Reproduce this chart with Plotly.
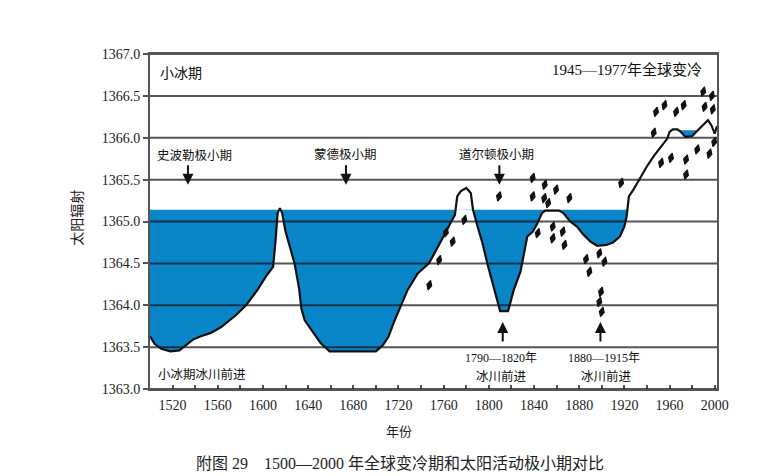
import numpy as np
import plotly.graph_objects as go

# ---- data ----
years = [1500, 1504, 1510, 1518, 1526, 1532, 1538, 1545, 1554, 1563, 1570, 1576, 1585, 1595,
         1603, 1609, 1611, 1613, 1615, 1617, 1620, 1624, 1628, 1632, 1634, 1637, 1643, 1651,
         1659, 1680, 1700, 1706, 1711, 1716, 1720, 1728, 1737, 1747, 1755, 1761, 1766, 1770,
         1772, 1775, 1780, 1784, 1786, 1790, 1794, 1799, 1805, 1808, 1810, 1817, 1822, 1828,
         1831, 1834, 1839, 1843, 1847, 1850, 1862, 1866, 1872, 1878, 1884, 1890, 1896, 1904,
         1910, 1916, 1920, 1922, 1924, 1928, 1934, 1940, 1946, 1952, 1958, 1960, 1963, 1967,
         1970, 1974, 1980, 1985, 1991, 1994, 1997, 2000, 2002]
irradiance = [1363.63, 1363.54, 1363.48, 1363.45, 1363.46, 1363.53, 1363.59, 1363.63, 1363.67,
              1363.74, 1363.81, 1363.88, 1364.00, 1364.18, 1364.35, 1364.46, 1364.75, 1365.10,
              1365.16, 1365.10, 1364.88, 1364.68, 1364.50, 1364.20, 1363.96, 1363.82, 1363.70,
              1363.55, 1363.45, 1363.45, 1363.45, 1363.52, 1363.62, 1363.80, 1363.93, 1364.18,
              1364.38, 1364.50, 1364.70, 1364.86, 1364.98, 1365.08, 1365.30, 1365.36, 1365.40,
              1365.34, 1365.14, 1364.94, 1364.76, 1364.48, 1364.18, 1364.02, 1363.93, 1363.93,
              1364.18, 1364.40, 1364.60, 1364.82, 1364.88, 1364.98, 1365.10, 1365.13, 1365.13,
              1365.10, 1365.00, 1364.94, 1364.84, 1364.76, 1364.71, 1364.72, 1364.75, 1364.82,
              1364.94, 1365.06, 1365.30, 1365.38, 1365.52, 1365.66, 1365.78, 1365.89, 1365.99,
              1366.07, 1366.10, 1366.10, 1366.07, 1366.01, 1366.02, 1366.09, 1366.17, 1366.21,
              1366.15, 1366.05, 1366.14]

# cold-period reference levels (level, start year, end year)
cold_levels = [(1365.14, 1500, 1930), (1366.09, 1966, 1988)]

dot_years = [1747.3, 1756, 1762, 1768, 1778.3, 1809, 1838.8, 1849.5, 1859.5, 1838.8, 1849,
             1852.5, 1871.3, 1843.3, 1856.6, 1856.6, 1865.4, 1866.9, 1886, 1889, 1897.8,
             1902.3, 1899.3, 1897.8, 1900, 1917.1, 1946, 1948, 1955.5, 1965.8, 1972.5,
             1989.8, 1997.5, 1991, 1998.3, 1952.5, 1961.3, 1974.6, 1974.6, 1984.5, 1995.3,
             1999.5]
dot_values = [1364.24, 1364.54, 1364.87, 1364.76, 1365.02, 1365.30, 1365.52, 1365.44, 1365.38,
              1365.30, 1365.28, 1365.22, 1365.28, 1364.86, 1364.94, 1364.80, 1364.88, 1364.72,
              1364.55, 1364.40, 1364.62, 1364.52, 1364.16, 1364.04, 1363.92, 1365.46, 1366.06,
              1366.31, 1366.39, 1366.31, 1366.39, 1366.55, 1366.50, 1366.37, 1366.34, 1365.70,
              1365.76, 1365.74, 1365.56, 1365.86, 1365.81, 1365.95]

y_ticks = [1363.0, 1363.5, 1364.0, 1364.5, 1365.0, 1365.5, 1366.0, 1366.5, 1367.0]
x_ticks = list(range(1500, 2001, 20))
x_labels = ["" if (t - 1520) % 40 else str(t) for t in x_ticks]

# labels: (text, year, value, anchor, size)
labels = [
    ("小冰期", 1507, 1366.77, "left", 14),
    ("1945—1977年全球变冷", 1990.6, 1366.81, "right", 15),
    ("史波勒极小期", 1539.8, 1365.78, "center", 12.5),
    ("蒙德极小期", 1673.5, 1365.80, "center", 12.5),
    ("道尔顿极小期", 1806.4, 1365.80, "center", 12.5),
    ("1790—1820年", 1810.8, 1363.37, "center", 12),
    ("冰川前进", 1810.8, 1363.15, "center", 12.5),
    ("1880—1915年", 1902.0, 1363.37, "center", 12),
    ("冰川前进", 1903.9, 1363.15, "center", 12.5),
    ("小冰期冰川前进", 1505.2, 1363.17, "left", 12.5),
]
# arrows: (year, tip value, direction)
arrows = [(1533.6, 1365.44, "down"), (1673.5, 1365.44, "down"), (1809.3, 1365.44, "down"),
          (1812.3, 1363.80, "up"), (1898.8, 1363.80, "up")]

BLUE = "#0a86c8"
SERIF = "Liberation Serif, Noto Sans CJK SC"
CJK = "Noto Sans CJK SC"

fig = go.Figure()

# blue fills between level and curve
fine_x = np.linspace(1500, 2002, 5021)
fine_y = np.interp(fine_x, years, irradiance)
for lvl, x0, x1 in cold_levels:
    m = (fine_x >= x0) & (fine_x <= x1)
    fx = fine_x[m]
    fy = np.minimum(fine_y[m], lvl)
    fig.add_trace(go.Scatter(x=fx, y=[lvl] * len(fx), mode="lines",
                             line=dict(width=0, color=BLUE), hoverinfo="skip", showlegend=False))
    fig.add_trace(go.Scatter(x=fx, y=fy, mode="lines", fill="tonexty", fillcolor=BLUE,
                             line=dict(width=0, color=BLUE), hoverinfo="skip", showlegend=False))

fig.add_trace(go.Scatter(x=years, y=irradiance, mode="lines",
                         line=dict(color="#111111", width=2.2), showlegend=False))
fig.add_trace(go.Scatter(x=dot_years, y=dot_values, mode="markers",
                         marker=dict(symbol="diamond-tall", size=7, color="#111111", angle=15,
                                     line=dict(width=1.2, color="#111111")),
                         showlegend=False))

shapes = []
for v in y_ticks:
    shapes.append(dict(type="line", xref="paper", x0=0, x1=1, yref="y", y0=v, y1=v,
                       line=dict(color="rgba(20,20,30,0.72)", width=2), layer="above"))

ann = []
for txt, x, y, anc, sz in labels:
    ann.append(dict(text=txt, x=x, y=y, xref="x", yref="y", showarrow=False, xanchor=anc,
                    yanchor="middle", font=dict(family=SERIF, size=sz, color="#111111")))
for x, y, d in arrows:
    ann.append(dict(text="", x=x, y=y, xref="x", yref="y", showarrow=True, ax=0,
                    ay=-21 if d == "down" else 21, arrowhead=2, arrowsize=1.1, arrowwidth=2,
                    arrowcolor="#111111"))
ann.append(dict(text="太阳辐射", textangle=-90, xref="paper", yref="paper", x=-0.131, y=0.51,
                xanchor="center", yanchor="middle", showarrow=False,
                font=dict(family=CJK, size=14, color="#222222")))
ann.append(dict(text="年份", xref="paper", yref="paper", x=0.44, y=-0.125, showarrow=False,
                xanchor="center", yanchor="middle",
                font=dict(family=CJK, size=13, color="#222222")))
ann.append(dict(text="附图 29    1500—2000 年全球变冷期和太阳活动极小期对比", xref="paper",
                yref="paper", x=0.441, y=-0.222, showarrow=False, xanchor="center",
                yanchor="middle", font=dict(family=SERIF, size=16, color="#222222")))

fig.update_layout(
    width=780, height=476, margin=dict(l=150, r=63, t=54, b=87),
    paper_bgcolor="white", plot_bgcolor="white",
    shapes=shapes, annotations=ann,
    xaxis=dict(range=[1500, 2002], tickvals=x_ticks, ticktext=x_labels, ticks="inside",
               ticklen=4, tickwidth=2, tickcolor="#555555", showgrid=False, zeroline=False,
               showline=True, linecolor="#555555", linewidth=2, mirror=True,
               tickfont=dict(family=SERIF, size=14, color="#222222"), ticklabelstandoff=2),
    yaxis=dict(range=[1363, 1367], tickvals=y_ticks, tickformat=".1f", ticks="outside",
               ticklen=5, tickwidth=2, tickcolor="#555555", showgrid=False, zeroline=False,
               showline=True, linecolor="#555555", linewidth=2, mirror=True,
               tickfont=dict(family=SERIF, size=14, color="#222222")),
)

fig.write_html("out.html")
